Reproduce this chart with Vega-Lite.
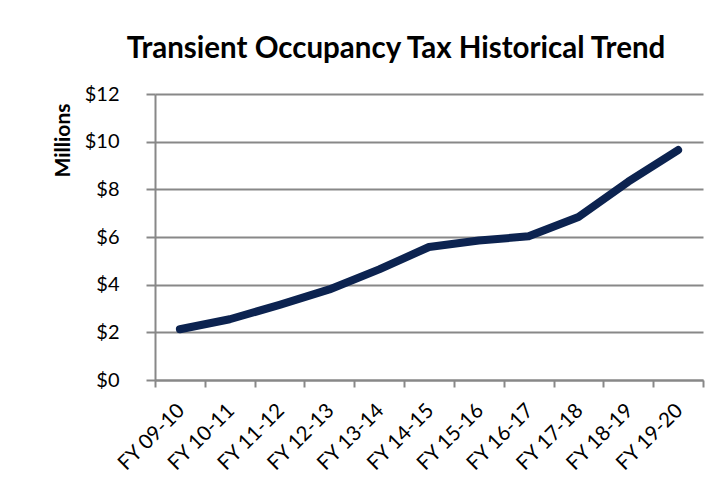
{
  "$schema": "https://vega.github.io/schema/vega-lite/v6.json",
  "width": 548,
  "height": 286,
  "autosize": {"type": "none"},
  "padding": {"left": 155, "top": 94, "right": 16, "bottom": 106},
  "background": "white",
  "config": {"view": {"stroke": null}, "font": "Lato"},
  "title": {
    "text": "Transient Occupancy Tax Historical Trend",
    "fontSize": 29.5,
    "font": "Lato",
    "fontWeight": "bold",
    "color": "black",
    "anchor": "middle",
    "dx": -33,
    "offset": 20
  },
  "data": {
    "values": [
      {"fy": "FY 09-10", "v": 2.13},
      {"fy": "FY 10-11", "v": 2.55},
      {"fy": "FY 11-12", "v": 3.15},
      {"fy": "FY 12-13", "v": 3.8},
      {"fy": "FY 13-14", "v": 4.64},
      {"fy": "FY 14-15", "v": 5.58},
      {"fy": "FY 15-16", "v": 5.85},
      {"fy": "FY 16-17", "v": 6.03},
      {"fy": "FY 17-18", "v": 6.84},
      {"fy": "FY 18-19", "v": 8.32},
      {"fy": "FY 19-20", "v": 9.65}
    ]
  },
  "mark": {"type": "line", "color": "#0c2350", "strokeWidth": 8, "strokeCap": "round", "strokeJoin": "round"},
  "encoding": {
    "x": {
      "field": "fy",
      "type": "ordinal",
      "sort": null,
      "scale": {"type": "band", "paddingInner": 0, "paddingOuter": 0},
      "axis": {
        "title": null,
        "labelAngle": -45,
        "labelAlign": "right",
        "labelBaseline": "top",
        "labelFontSize": 20.5,
        "labelFont": "Lato",
        "labelColor": "black",
        "labelPadding": 13,
        "labelOffset": -6,
        "tickBand": "extent",
        "tickSize": 7,
        "tickColor": "#888888",
        "tickWidth": 2,
        "domainColor": "#888888",
        "domainWidth": 2,
        "grid": false
      }
    },
    "y": {
      "field": "v",
      "type": "quantitative",
      "scale": {"domain": [0, 12], "nice": false},
      "axis": {
        "title": "Millions",
        "titleFontSize": 21,
        "titleFont": "Lato",
        "titleFontWeight": "bold",
        "titleColor": "black",
        "titleAngle": -90,
        "titleAlign": "center",
        "titleBaseline": "middle",
        "titleX": -92,
        "titleY": 46,
        "values": [0, 2, 4, 6, 8, 10, 12],
        "format": "$,.0f",
        "labelFontSize": 20,
        "labelFont": "Lato",
        "labelColor": "black",
        "labelPadding": 27,
        "tickSize": 9,
        "tickColor": "#888888",
        "tickWidth": 2,
        "domainColor": "#888888",
        "domainWidth": 2,
        "gridColor": "#888888",
        "gridWidth": 2,
        "gridOpacity": 1
      }
    }
  }
}
